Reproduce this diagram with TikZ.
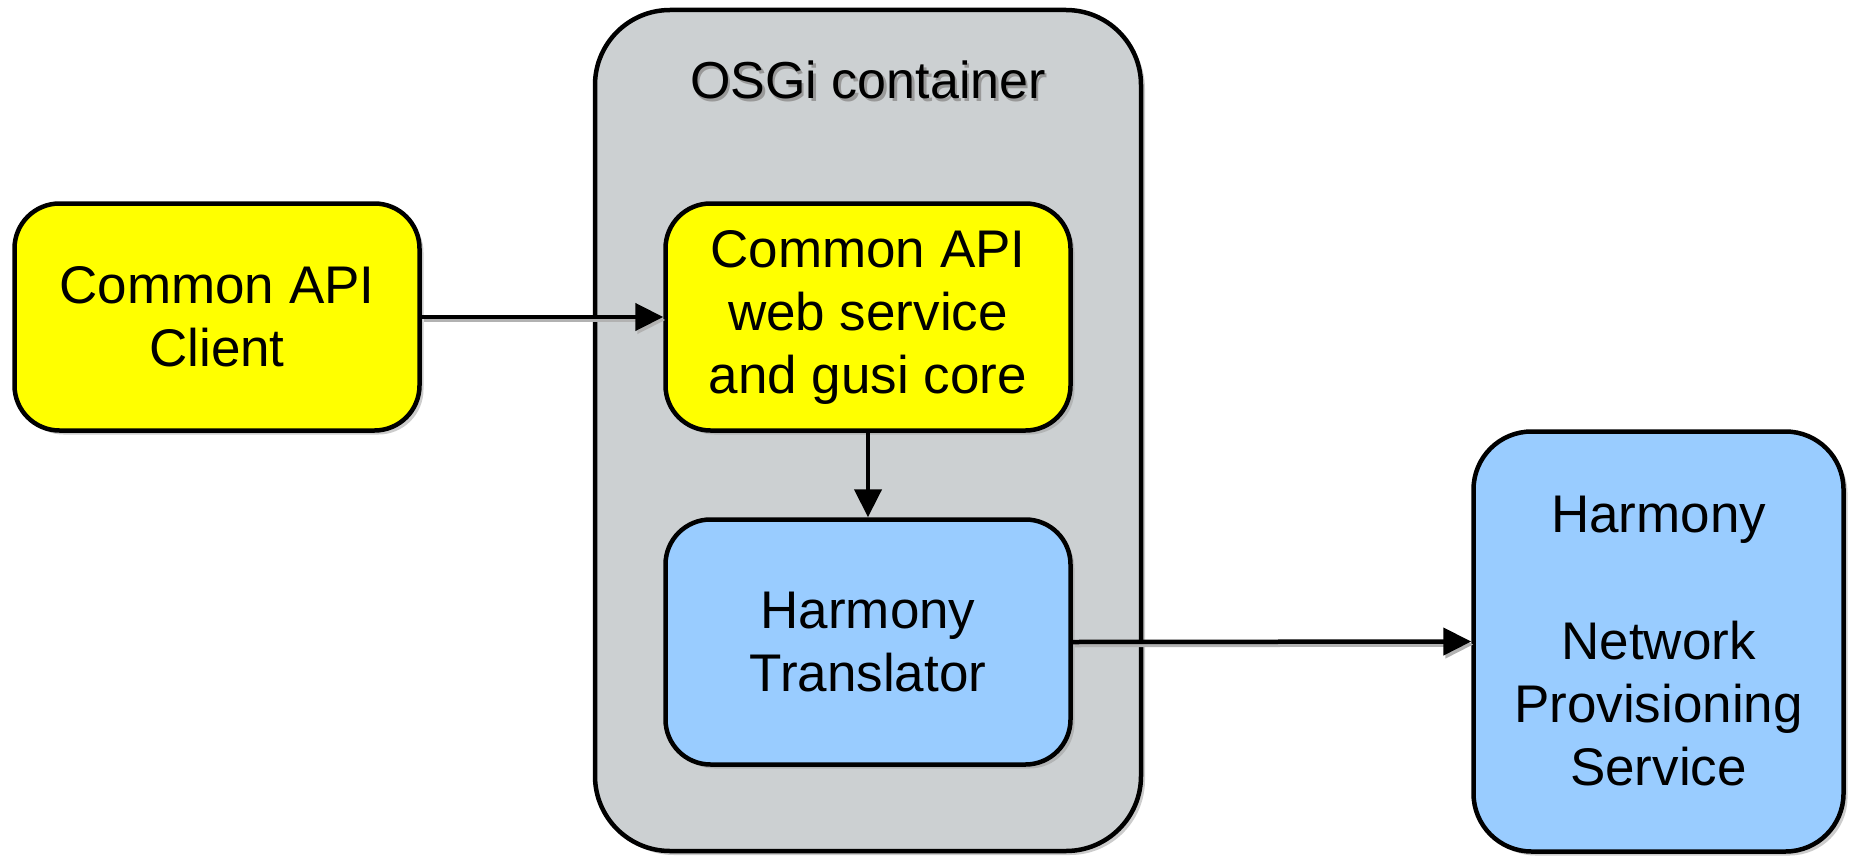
\documentclass[tikz,border=0pt]{standalone}
\usepackage{fontspec}
\setmainfont{Liberation Sans}
\usetikzlibrary{shadows,arrows.meta}
\definecolor{boxyellow}{RGB}{255,255,0}
\definecolor{boxblue}{RGB}{153,204,255}
\definecolor{containergray}{RGB}{204,208,210}
\begin{document}
\begin{tikzpicture}[x=1pt,y=-1pt,
  shade box/.style={drop shadow={shadow xshift=4pt, shadow yshift=-4pt, fill=black!40, opacity=0.5}},
  box/.style={draw=black, line width=4.5pt, rounded corners=45pt, align=center, inner sep=0pt,
    font=\fontsize{53}{63}\selectfont, shade box},
  flow/.style={line width=4.5pt, -{Triangle[length=28pt,width=27pt]}},
  flowshadow/.style={line width=4.5pt, black!30, -{Triangle[length=28pt,width=27pt]},
    transform canvas={xshift=2pt,yshift=-3pt}}]
\useasboundingbox (0,0) rectangle (1851,856);

% the container
\node[box, fill=containergray, rounded corners=75pt, minimum width=546pt, minimum height=841pt]
  (osgi) at (868,430.5) {};
\node[font=\fontsize{52}{60}\selectfont, text=black!40] at (870.5,82.5) {OSGi container};
\node[font=\fontsize{52}{60}\selectfont] (osgititle) at (868,80) {OSGi container};

% the components
\node[box, fill=boxyellow, minimum width=405pt, minimum height=227pt] (client) at (217,317)
  {Common API\\Client};
\node[box, fill=boxyellow, minimum width=405pt, minimum height=227pt] (ws) at (868,317)
  {Common API\\web service\\and gusi core};
\node[box, fill=boxblue, minimum width=405pt, minimum height=245pt] (trans) at (868,642)
  {Harmony\\Translator};
\node[box, fill=boxblue, rounded corners=58pt, minimum width=370pt, minimum height=420pt] (nps) at (1658.5,641.5)
  {Harmony\\[64pt]Network\\Provisioning\\Service};

% connectors
\draw[flowshadow] (client.east) -- (ws.west);
\draw[flowshadow] (trans.east) -- (nps.west);
\draw[flow] (client.east) -- (ws.west);
\draw[flow] (ws.south) -- (trans.north);
\draw[flow] (trans.east) -- (nps.west);
\end{tikzpicture}
\end{document}
